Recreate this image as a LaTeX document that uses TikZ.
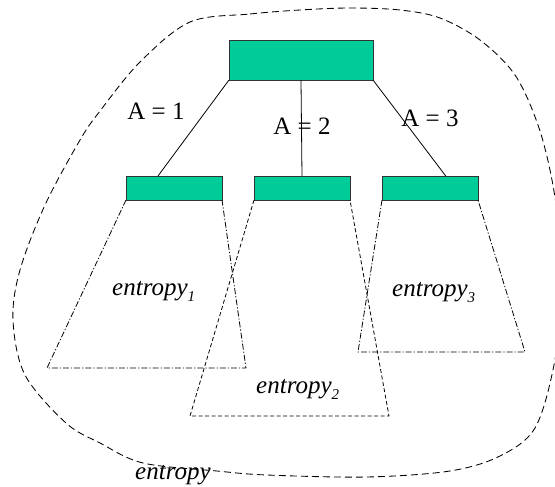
\documentclass[tikz,border=0pt]{standalone}
\usepackage{fontspec}
\setmainfont{Liberation Serif}
\usetikzlibrary{calc}
\definecolor{boxgreen}{RGB}{0,204,153}
\newcommand\entsub[1]{\raisebox{-6pt}{\fontsize{15}{15}\selectfont #1}}
\begin{document}
\begin{tikzpicture}[x=1pt,y=-1pt,
  topbox/.style={draw=black!80, fill=boxgreen, line width=0.8pt, minimum width=144pt, minimum height=40pt, inner sep=0pt, outer sep=0pt},
  childbox/.style={draw=black!80, fill=boxgreen, line width=0.8pt, minimum width=96pt, minimum height=24pt, inner sep=0pt, outer sep=0pt},
  edge/.style={draw=black, line width=0.8pt},
  lbl/.style={font=\fontsize{25}{30}\selectfont, inner sep=0pt, anchor=base},
  ent/.style={font=\fontsize{25}{30}\selectfont\itshape, inner sep=0pt, anchor=base west},
  blobline/.style={draw=black, line width=0.85pt, dash pattern=on 7pt off 4pt},
  dashtrap/.style={draw=black, line width=0.8pt, dash pattern=on 4pt off 2.5pt},
  dashdottrap/.style={draw=black, line width=0.8pt, dash pattern=on 6pt off 2pt on 1.2pt off 2pt}
]
\useasboundingbox (0,0) rectangle (555,487);

% outer region
\draw[blobline] plot[smooth cycle, tension=0.55] coordinates {
  (190,22) (250,14) (300,10) (350,8) (400,10) (440,18) (480,40) (515,75)
  (538,125) (552,180) (560,240) (561,300) (554,365) (535,428) (500,456) (450,471)
  (367,477) (267,475) (217,471) (143,463) (100,443) (66,423) (25,375)
  (13,320) (20,270) (45,205) (80,140) (100,111) (140,62)};

% boxes
\node[topbox] (top) at (301,60) {};
\node[childbox] (c1) at (174,188) {};
\node[childbox] (c2) at (302,188) {};
\node[childbox] (c3) at (430,188) {};

% trapezoids
\coordinate (t1bl) at (47,368);
\coordinate (t1br) at (246,368);
\coordinate (t2bl) at (190,416);
\coordinate (t2br) at (389,416);
\coordinate (t3bl) at (358,352);
\coordinate (t3br) at (525,352);
\draw[dashdottrap] (c1.south west) -- (t1bl) -- (t1br) -- (c1.south east);
\draw[dashtrap] (c2.south west) -- (t2bl) -- (t2br) -- (c2.south east);
\draw[dashdottrap] (c3.south west) -- (t3bl) -- (t3br) -- (c3.south east);

% connectors
\draw[edge] (top.south west) -- ($(c1.north west)!0.333!(c1.north east)$);
\draw[edge] (top.south) -- (c2.north);
\draw[edge] (top.south east) -- ($(c3.north west)!0.664!(c3.north east)$);

% labels
\node[lbl] (a1) at (156,120) {A = 1};
\node[lbl] (a2) at (302,135) {A = 2};
\node[lbl] (a3) at (430,127) {A = 3};

\node[ent] (e1) at (112,295) {entropy\entsub{1}};
\node[ent] (e2) at (256,393) {entropy\entsub{2}};
\node[ent] (e3) at (392,296) {entropy\entsub{3}};
\node[ent] (e0) at (135,479) {entropy};
\end{tikzpicture}
\end{document}
